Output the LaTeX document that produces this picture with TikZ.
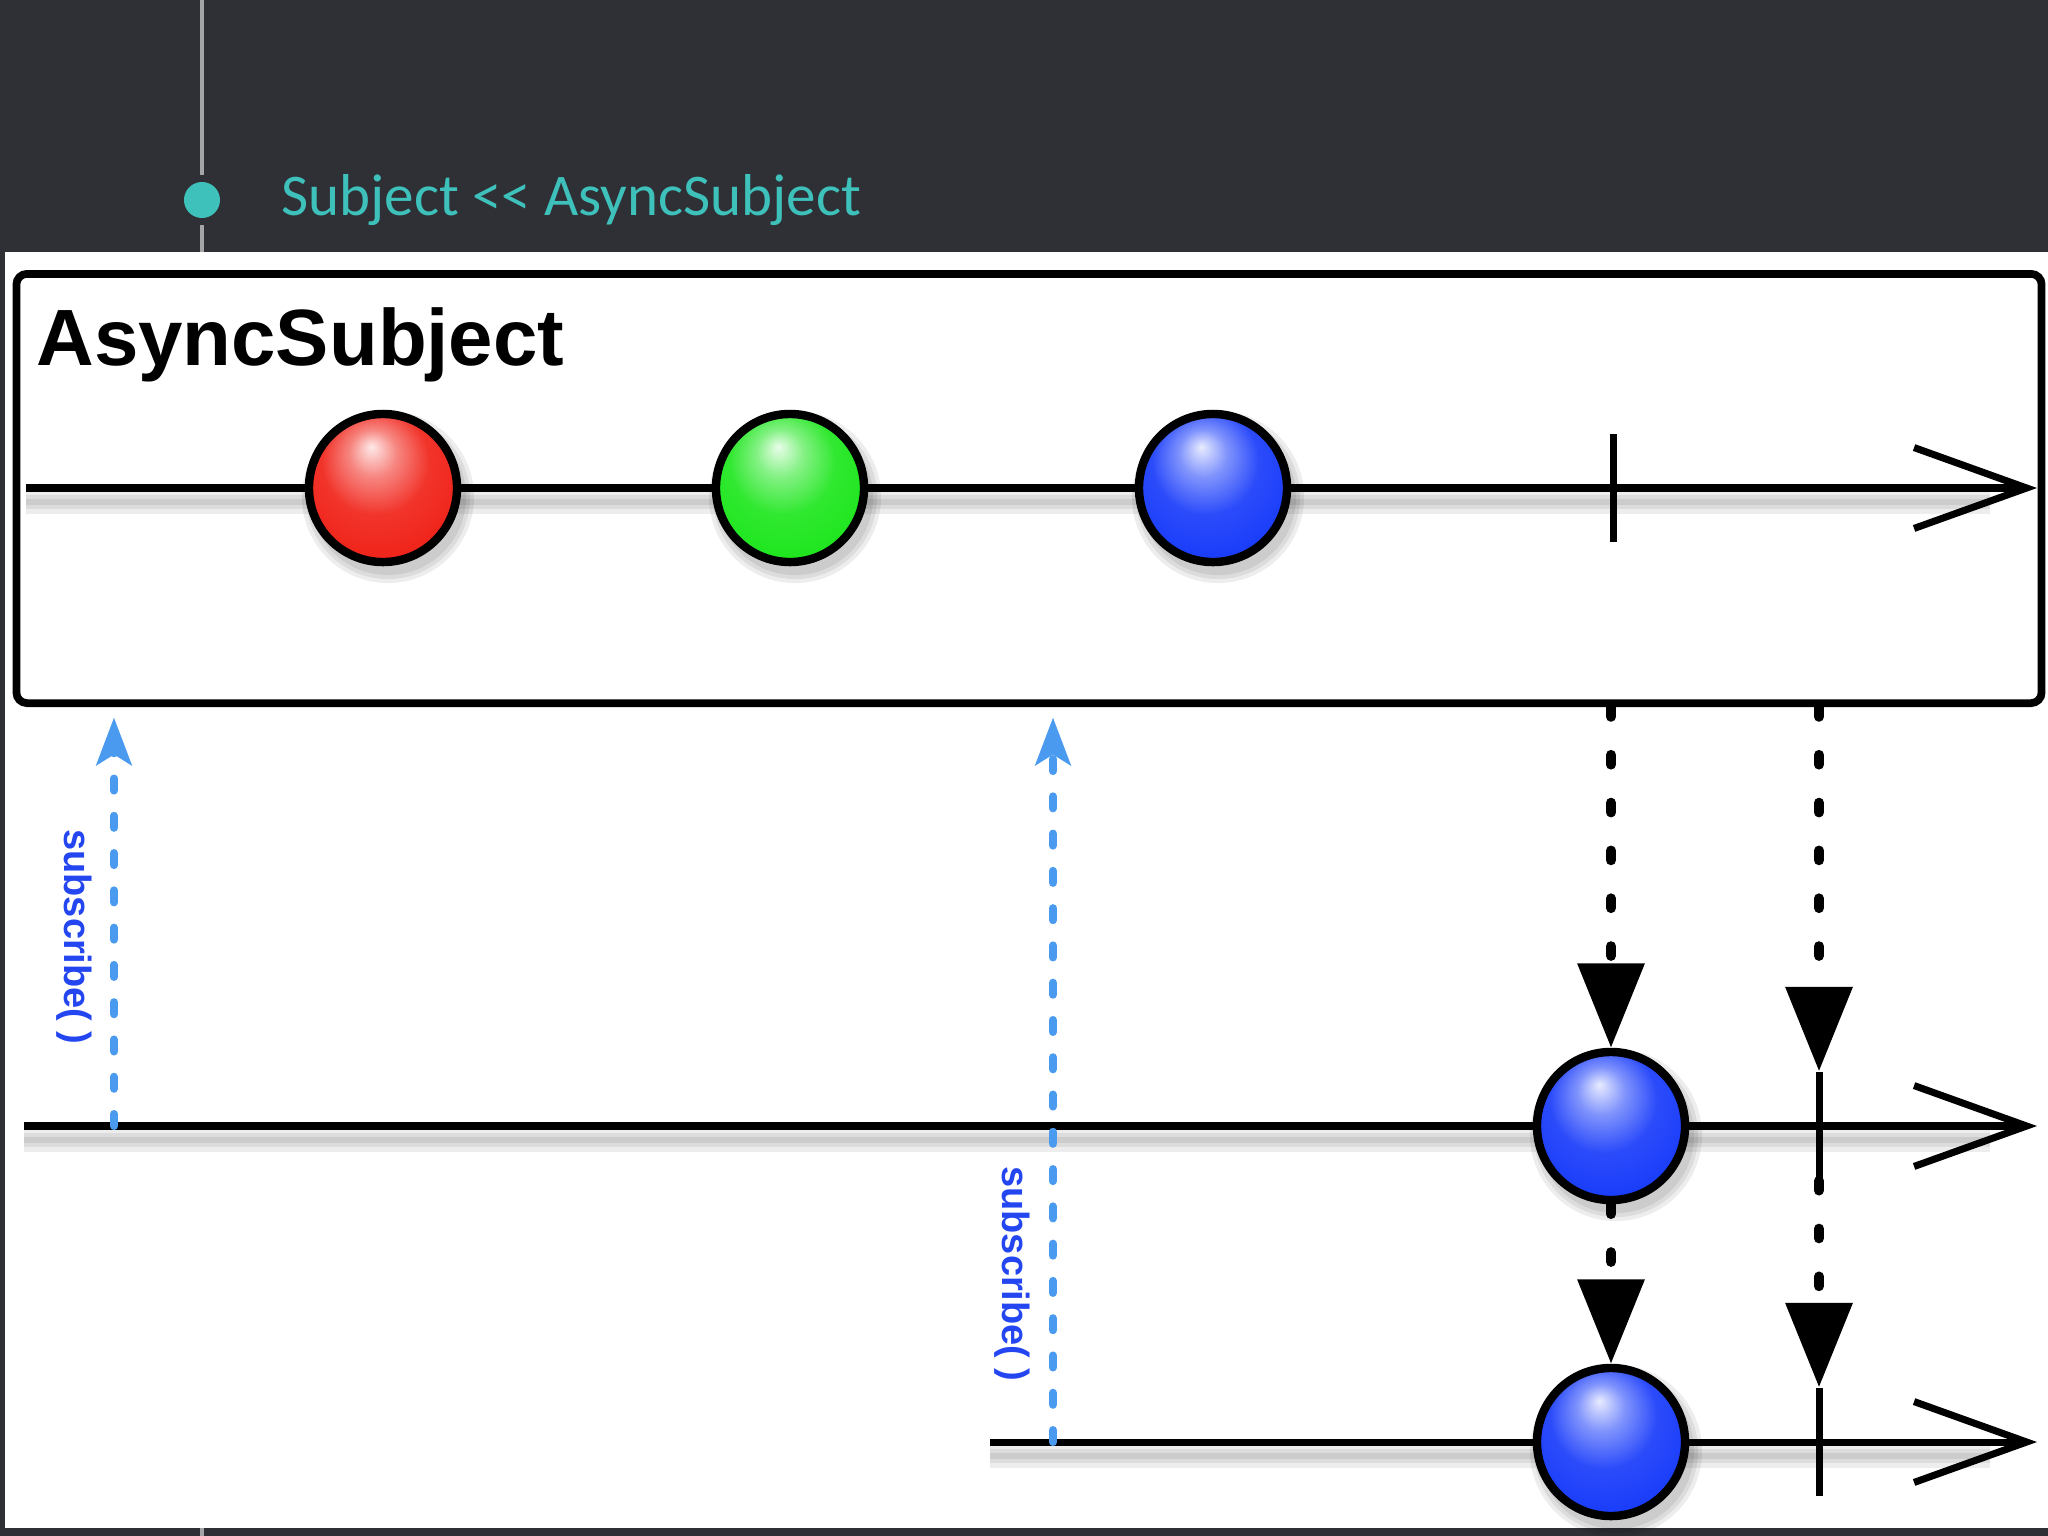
\documentclass[tikz,border=0pt]{standalone}
\usepackage{fontspec}
\setmainfont{Liberation Sans}
\newfontfamily\hdrfont[Ligatures=TeXOff]{Carlito}
\usetikzlibrary{arrows.meta, positioning, calc}

\definecolor{slate}{RGB}{47,47,54}
\definecolor{hdrTeal}{RGB}{62,193,187}
\definecolor{railGray}{RGB}{165,165,165}
\definecolor{subBlue}{RGB}{74,155,240}
\definecolor{labelBlue}{RGB}{35,70,240}
\definecolor{marbleRed}{RGB}{240,35,25}
\definecolor{marbleGreen}{RGB}{30,230,30}
\definecolor{marbleBlue}{RGB}{25,60,250}
\colorlet{marbleTint}{marbleRed}

% glossy marble, brighter than the stock ball shading
\pgfdeclareradialshading[marbleTint]{marble}{\pgfpoint{-4bp}{14bp}}{%
  color(0bp)=(marbleTint!10!white); color(8bp)=(marbleTint!55!white);
  color(18bp)=(marbleTint!92!white); color(30bp)=(marbleTint);
  color(40bp)=(marbleTint!82!black); color(50bp)=(marbleTint!40!black)}

\begin{document}
\begin{tikzpicture}[x=0.01cm, y=-0.01cm,
  frame/.style={rectangle, draw, line width=2.2pt, rounded corners=3pt, minimum width=20.24cm, minimum height=4.29cm, inner sep=0pt},
  marble/.style={circle, draw, line width=2.4pt, minimum size=1.48cm, inner sep=0pt, shading=marble},
  marble tint/.code={\colorlet{marbleTint}{#1}},
  tickmark/.style={rectangle, fill=black, minimum width=2pt, minimum height=1.08cm, inner sep=0pt},
  timeline/.style={line width=2pt, -{Straight Barb[length=32pt, width=23pt]}},
  emit/.style={line width=2.8pt, dash pattern=on 2.8pt off 10.8pt, line cap=round, -{Triangle[length=24pt, width=18.5pt]}},
  sub/.style={draw=subBlue, line width=2.3pt, dash pattern=on 3.4pt off 7.2pt, line cap=round, -{Stealth[length=13.5pt, width=10pt, inset=3pt]}},
  sublabel/.style={rotate=-90, text=labelBlue, font=\bfseries\fontsize{10.8}{12}\selectfont}
]
  % background
  \fill[slate] (0,0) rectangle (2048,1536);
  \fill[white] (5,252) rectangle (2048,1528);
  \useasboundingbox (0,0) rectangle (2048,1536);

  % header
  \node[circle, fill=hdrTeal, minimum size=0.36cm, inner sep=0pt, outer sep=0.07cm] (dot) at (202,200) {};
  \node[anchor=base west, text=hdrTeal, font=\hdrfont\fontsize{16.8}{20}\selectfont] (hdr) at (269,215) {Subject << AsyncSubject};
  \draw[railGray, line width=0.9pt] (202,0) -- (dot.north);
  \draw[railGray, line width=0.9pt] (dot.south) -- (202,252);
  \draw[railGray, line width=0.9pt] (202,1528) -- (202,1536);

  % subject box
  \node[frame] (subject) at (1029,488.5) {};
  \node[anchor=base west, font=\bfseries\fontsize{22.7}{26}\selectfont] (name) at (24,365) {AsyncSubject};

  % shadows
  \foreach \y/\xs in {488/26, 1126/24, 1442/990}
    \foreach \w in {0.06,0.14,0.24}
      \draw[black, opacity=0.07, line width=\w cm] (\xs,\y+14) -- (1990,\y+14);
  \foreach \px/\py in {383/488, 790/488, 1213/488, 1611/1126, 1611/1442}
    \foreach \r in {0.78,0.82,0.86}
      \fill[black, opacity=0.07] (\px+5,\py+9) circle (\r cm);

  % timelines
  \draw[timeline] (26,488) -- (2037,488);
  \draw[timeline] (24,1126) -- (2037,1126);
  \draw[timeline] (990,1442) -- (2037,1442);

  % source events
  \node[marble, marble tint=marbleRed] (r1) at (383,488) {};
  \node[marble, marble tint=marbleGreen] (g1) at (790,488) {};
  \node[marble, marble tint=marbleBlue] (b1) at (1213,488) {};
  \node[tickmark] (c1) at (1613,488) {};

  % subscriber events
  \node[marble, marble tint=marbleBlue] (b2) at (1611,1126) {};
  \node[tickmark] (c2) at (1819,1126) {};
  \node[marble, marble tint=marbleBlue] (b3) at (1611,1442) {};
  \node[tickmark] (c3) at (1819,1442) {};

  % emissions
  \draw[emit] (b2 |- subject.south) -- (b2.north);
  \draw[emit] (c2 |- subject.south) -- (c2.north);
  \draw[emit] (b2.south) -- (b3.north);
  \draw[emit] (c2.south) -- (c3.north);

  % subscriptions
  \coordinate (s1) at (114,1126);
  \coordinate (s2) at (1053,1442);
  \draw[sub, shorten >=3pt] (s1) -- (s1 |- subject.south);
  \draw[sub, shorten >=3pt] (s2) -- (s2 |- subject.south);
  \node[sublabel] (l1) at (74,937) {subscribe( )};
  \node[sublabel] (l2) at (1012,1274) {subscribe( )};
\end{tikzpicture}
\end{document}
